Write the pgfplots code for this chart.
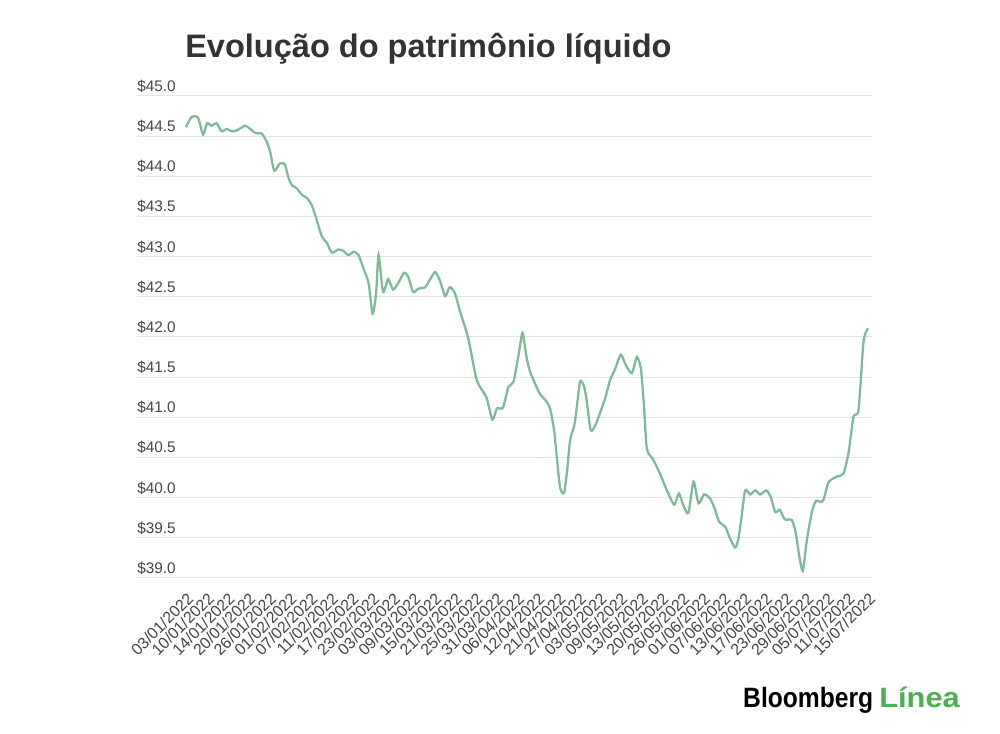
\documentclass[border=0pt]{standalone}
\usepackage{pgfplots}
\pgfplotsset{compat=1.18}
\usepackage{fontspec}
\setmainfont{Liberation Sans}
\definecolor{linegreen}{RGB}{125,186,152}
\definecolor{gridgray}{RGB}{228,228,226}
\definecolor{ticktext}{RGB}{70,70,70}
\definecolor{titletext}{RGB}{51,51,51}
\definecolor{logogreen}{RGB}{76,175,80}

\pgfplotstableread{
x y
0 44.61
1.07 44.74
2.33 44.73
3.30 44.52
4.08 44.66
4.95 44.63
5.92 44.66
6.89 44.56
7.86 44.59
8.83 44.56
9.80 44.57
11.45 44.63
12.42 44.59
13.39 44.54
14.66 44.53
15.63 44.43
16.31 44.30
17.08 44.07
18.15 44.16
19.12 44.15
19.80 43.99
20.48 43.89
21.45 43.85
22.42 43.77
23.39 43.73
24.36 43.64
25.33 43.45
26.30 43.25
27.27 43.17
28.24 43.05
29.51 43.09
30.48 43.07
31.45 43.02
32.42 43.06
33.39 43.02
34.36 42.85
35.33 42.67
36.11 42.29
36.79 42.54
37.27 43.02
38.14 42.56
39.11 42.72
40.08 42.59
41.06 42.67
42.22 42.80
43.00 42.75
43.97 42.56
44.94 42.60
46.30 42.62
47.27 42.72
48.24 42.81
49.21 42.69
50.18 42.51
51.05 42.62
52.02 42.55
52.99 42.33
54.64 41.98
56.29 41.46
58.14 41.25
59.30 40.97
60.18 41.11
61.34 41.12
62.41 41.38
63.38 41.44
64.35 41.77
65.13 42.05
65.90 41.75
66.58 41.57
67.55 41.42
68.52 41.29
69.49 41.22
70.46 41.11
71.24 40.84
71.82 40.47
72.41 40.12
73.18 40.06
73.76 40.34
74.35 40.72
75.12 40.89
75.61 41.11
76.29 41.45
77.06 41.38
77.55 41.21
78.33 40.84
79.20 40.90
80.17 41.06
81.14 41.24
82.11 41.47
82.99 41.59
84.15 41.78
85.12 41.65
86.29 41.55
87.26 41.75
88.03 41.61
88.61 41.17
89.20 40.61
90.46 40.47
91.72 40.30
93.08 40.09
94.25 39.93
94.63 39.92
95.41 40.05
96.28 39.90
97.25 39.81
98.22 40.20
99.19 39.93
100.26 40.04
101.43 39.99
102.40 39.85
103.17 39.70
104.34 39.64
105.31 39.49
106.28 39.38
106.86 39.47
107.45 39.72
108.22 40.09
109.19 40.04
110.16 40.09
111.13 40.04
112.30 40.09
113.17 40.01
114.04 39.82
114.92 39.85
115.89 39.73
117.25 39.72
118.02 39.56
118.70 39.27
119.38 39.09
120.16 39.47
121.13 39.82
121.91 39.96
122.68 39.95
123.36 39.97
124.33 40.19
125.30 40.24
126.27 40.27
127.24 40.30
128.21 40.55
129.19 41.01
130.16 41.09
131.13 41.94
132 42.11
}\navdata

\begin{document}
\begin{tikzpicture}
\path[use as bounding box, fill=white] (0,0) rectangle (750pt,550.5pt);
\begin{axis}[
  at={(102.75pt,117pt)}, anchor=south west,
  scale only axis, width=551.25pt, height=361.5pt,
  xmin=-9.484, xmax=132.77, ymin=39, ymax=45,
  axis line style={draw=none},
  major tick length=0pt,
  tick style={draw=none},
  ymajorgrids, xmajorgrids=false,
  grid style={gridgray, line width=0.75pt},
  clip=false,
  ytick={39,39.5,40,40.5,41,41.5,42,42.5,43,43.5,44,44.5,45},
  yticklabels={\$39.0,\$39.5,\$40.0,\$40.5,\$41.0,\$41.5,\$42.0,\$42.5,\$43.0,\$43.5,\$44.0,\$44.5,\$45.0},
  yticklabel style={font=\fontsize{11.5pt}{13pt}\selectfont, text=ticktext, anchor=base west, inner sep=0pt, yshift=3.4pt},
  xtick={0,4,...,132},
  xticklabels={03/01/2022,10/01/2022,14/01/2022,20/01/2022,26/01/2022,01/02/2022,07/02/2022,11/02/2022,17/02/2022,23/02/2022,03/03/2022,09/03/2022,15/03/2022,21/03/2022,25/03/2022,31/03/2022,06/04/2022,12/04/2022,21/04/2022,27/04/2022,03/05/2022,09/05/2022,13/05/2022,20/05/2022,26/05/2022,01/06/2022,07/06/2022,13/06/2022,17/06/2022,23/06/2022,29/06/2022,05/07/2022,11/07/2022,15/07/2022},
  xticklabel style={font=\fontsize{12pt}{13pt}\selectfont, text=ticktext, inner sep=0pt, xshift=3.4pt, yshift=-13.2pt, rotate=45, anchor=east},
]
\addplot[linegreen, line width=1.7pt, smooth, tension=0.4, mark=none] table[x=x, y=y] {\navdata};
\end{axis}
\node[anchor=base west, inner sep=0pt, font=\fontsize{24.4pt}{28pt}\bfseries\selectfont, text=titletext] at (138.75pt,507pt) {Evolução do patrimônio líquido};
\node[anchor=base west, inner sep=0pt, font=\fontsize{21pt}{24pt}\bfseries\selectfont, text=black, xscale=0.88] at (557.25pt,19.5pt) {Bloomberg};
\node[anchor=base west, inner sep=0pt, font=\fontsize{21pt}{24pt}\bfseries\selectfont, text=logogreen, xscale=1.1] at (659.25pt,19.5pt) {Línea};
\end{tikzpicture}
\end{document}
